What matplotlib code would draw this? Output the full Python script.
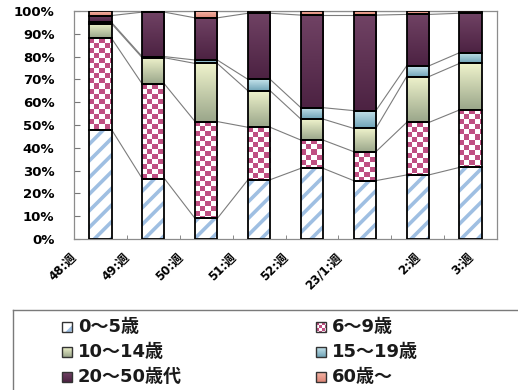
import numpy as np
import matplotlib
matplotlib.use("Agg")
import matplotlib.pyplot as plt
import matplotlib.colors as mcolors
import matplotlib.transforms as mtransforms
from matplotlib.patches import Rectangle

weeks = ["48:週", "49:週", "50:週", "51:週", "52:週", "23/1:週", "2:週", "3:週"]
groups = ["0～5歳", "6～9歳", "10～14歳", "15～19歳", "20～50歳代", "60歳～"]

age_0_5 = [48.0, 26.5, 9.0, 26.0, 31.0, 25.6, 28.1, 31.4]
age_6_9 = [40.0, 41.5, 42.5, 23.0, 12.4, 12.7, 23.0, 25.2]
age_10_14 = [6.5, 11.5, 25.5, 16.0, 9.2, 10.2, 20.1, 20.4]
age_15_19 = [0.5, 0.5, 1.5, 5.0, 5.0, 7.8, 4.7, 4.7]
age_20_50 = [3.0, 19.5, 18.5, 29.0, 40.6, 41.9, 22.6, 17.3]
age_60 = [2.0, 0.5, 3.0, 1.0, 1.8, 1.8, 1.5, 1.0]

series = [age_0_5, age_6_9, age_10_14, age_15_19, age_20_50, age_60]

# fill style per series
fills = [
    ("hatch", "#9fbfe2"),
    ("checker", "#bf4f82"),
    ("grad", "#eff3cc", "#9aa68a"),
    ("grad", "#c6e4ec", "#6fa3b6"),
    ("grad", "#704264", "#4c2242"),
    ("grad", "#f4b6a8", "#de8676"),
]

cjk = ["DejaVu Sans", "Noto Sans CJK JP"]
plt.rcParams["hatch.linewidth"] = 2.6

W, H = 518, 390
fig = plt.figure(figsize=(W / 100, H / 100), dpi=100)
ax_l, ax_r, ax_t, ax_b = 74, 497, 11, 239
ax = fig.add_axes([ax_l / W, 1 - ax_b / H, (ax_r - ax_l) / W, (ax_b - ax_t) / H])

vals = np.array(series, dtype=float)
vals = vals / vals.sum(axis=0) * 100
cum = np.cumsum(vals, axis=0)
x = np.arange(len(weeks))
bw = 0.42
px_x = (ax_r - ax_l) / len(weeks)   # pixels per category
px_y = (ax_b - ax_t) / 100.0        # pixels per percent


def vgrad(top, bottom, n=64):
    c1 = np.array(mcolors.to_rgb(top))
    c2 = np.array(mcolors.to_rgb(bottom))
    t = np.linspace(0, 1, n)[:, None]
    return (c1 * (1 - t) + c2 * t)[:, None, :]


def checker(wpx, hpx, color, cell=5):
    wpx, hpx = max(int(round(wpx)), 1), max(int(round(hpx)), 1)
    yy, xx = np.mgrid[0:hpx, 0:wpx]
    on = ((xx // cell + yy // cell) % 2) == 0
    img = np.ones((hpx, wpx, 3))
    img[on] = mcolors.to_rgb(color)
    return img


for k, v in enumerate(vals):
    base = cum[k] - v
    style = fills[k]
    if style[0] == "hatch":
        ax.bar(x, v, bw, bottom=base, facecolor="white", edgecolor=style[1],
               linewidth=0, hatch="//", zorder=3)
    else:
        for i in range(len(x)):
            ext = (x[i] - bw / 2, x[i] + bw / 2, base[i], cum[k][i])
            if style[0] == "checker":
                img = checker(bw * px_x, v[i] * px_y, style[1])
                ax.imshow(img, extent=ext, aspect="auto", interpolation="nearest", zorder=3)
            else:
                ax.imshow(vgrad(style[1], style[2]), extent=ext, aspect="auto",
                          interpolation="bilinear", zorder=3)
    ax.bar(x, v, bw, bottom=base, facecolor="none", edgecolor="black", linewidth=1.3, zorder=4)

# series lines
for k in range(len(vals)):
    for i in range(len(x) - 1):
        ax.plot([x[i] + bw / 2, x[i + 1] - bw / 2], [cum[k][i], cum[k][i + 1]],
                color="#7c7c7c", linewidth=0.8, zorder=2)

ax.set_xlim(-0.5, len(weeks) - 0.5)
ax.set_ylim(0, 100)
ax.set_yticks(np.arange(0, 101, 10))
ax.set_yticklabels([f"{t}%" for t in range(0, 101, 10)], fontsize=9.5, fontweight="bold",
                   family="DejaVu Sans")
ax.tick_params(axis="y", direction="in", length=4, color="#777777", pad=14)
ax.set_xticks([])
ax.set_xticks(np.arange(0.5, len(weeks) - 0.5, 1), minor=True)
ax.tick_params(axis="x", which="minor", direction="in", length=3, color="#777777")
for s in ax.spines.values():
    s.set_color("#8c8c8c")
    s.set_linewidth(0.9)

label_dx = [-30, -30, -30, -30, -30, -30, -4, -4]
trans = mtransforms.blended_transform_factory(ax.transData, ax.transAxes)
for i, lab in enumerate(weeks):
    t = trans + mtransforms.ScaledTranslation(label_dx[i] / 100, -12 / 100, fig.dpi_scale_trans)
    ax.text(x[i], 0, lab, transform=t, rotation=45, ha="right", va="top",
            rotation_mode="anchor", fontsize=8.5, fontweight="bold", family=cjk)

# legend box drawn in pixel coordinates
lx0, ly0 = 13, 310
lax = fig.add_axes([lx0 / W, 1 - 400 / H, 520 / W, 90 / H])
lax.set_xticks([])
lax.set_yticks([])
for s in lax.spines.values():
    s.set_color("#7a7a7a")
    s.set_linewidth(1.0)

col_sq = [62 - lx0, 316 - lx0]
rows = [327 - ly0, 352 - ly0, 377 - ly0]
sq = 10
for k, name in enumerate(groups):
    cx = col_sq[k % 2]
    cy = rows[k // 2]
    ext = (cx, cx + sq, cy + sq / 2, cy - sq / 2)
    style = fills[k]
    if style[0] == "hatch":
        lax.add_patch(Rectangle((cx, cy - sq / 2), sq, sq, facecolor="white",
                                edgecolor=style[1], linewidth=0, hatch="/", zorder=2))
    elif style[0] == "checker":
        lax.imshow(checker(sq, sq, style[1], cell=3), extent=ext, aspect="auto",
                   interpolation="nearest", zorder=2)
    else:
        lax.imshow(vgrad(style[1], style[2]), extent=ext, aspect="auto",
                   interpolation="bilinear", zorder=2)
    lax.add_patch(Rectangle((cx, cy - sq / 2), sq, sq, facecolor="none",
                            edgecolor="#333333", linewidth=1.0, zorder=3))
    lax.text(cx + sq + 6, cy, name, fontsize=13, va="center", ha="left",
             family=cjk, fontweight="bold", color="#1a1a1a")
lax.set_xlim(0, 520)
lax.set_ylim(90, 0)

fig.savefig("out.png", dpi=100)
